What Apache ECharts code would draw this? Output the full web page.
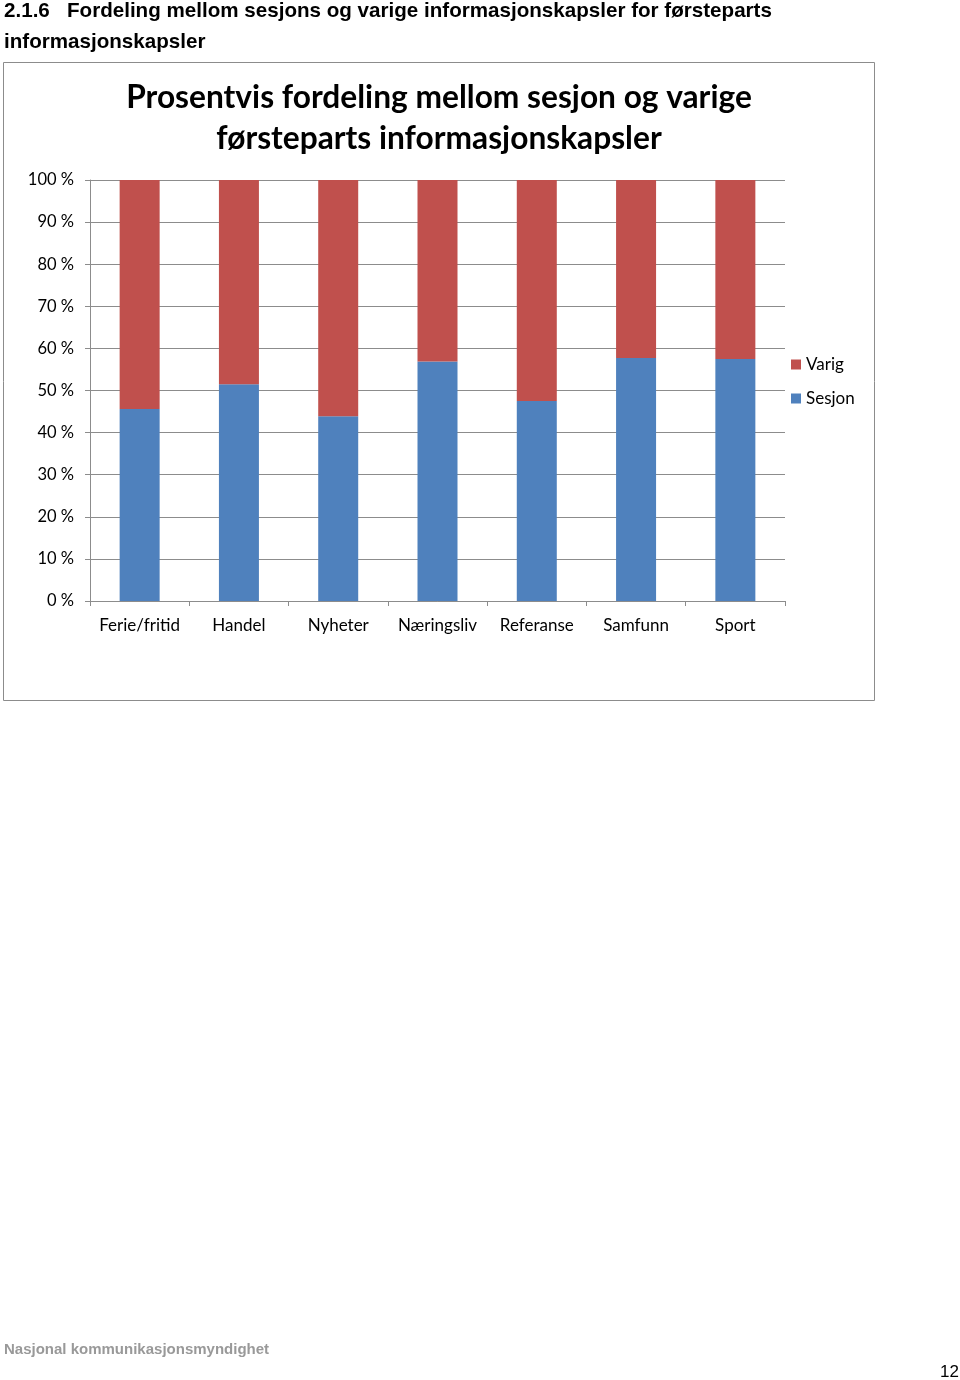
<!DOCTYPE html>
<html>
<head>
<meta charset="utf-8">
<script src="https://cdn.jsdelivr.net/npm/echarts@6/dist/echarts.min.js"></script>
<style>
html,body{margin:0;padding:0;background:#fff;}
#c{width:960px;height:1380px;}
</style>
</head>
<body>
<div id="c"></div>
<script>
const categories = ['Ferie/fritid','Handel','Nyheter','Næringsliv','Referanse','Samfunn','Sport'];
const sesjon = [45.6, 51.5, 43.9, 56.9, 47.5, 57.7, 57.5];
const varig = sesjon.map(v => +(100 - v).toFixed(1));
const seriesNames = ['Sesjon','Varig'];
const yTicks = [0,10,20,30,40,50,60,70,80,90,100];

const chart = echarts.init(document.getElementById('c'), null, {renderer:'canvas'});
const labelFont = 'Lato, "Open Sans", sans-serif';
chart.setOption({
  animation:false,
  backgroundColor:'#fff',
  graphic:[
    {type:'rect', shape:{x:3.5,y:62.5,width:871,height:638}, style:{fill:'none',stroke:'#8c8c8c',lineWidth:1}, z:-1},
    {type:'text', left:4, top:1, style:{text:'2.1.6   Fordeling mellom sesjons og varige informasjonskapsler for førsteparts', font:'bold 20.6px "Liberation Sans", Arial, sans-serif', fill:'#000'}},
    {type:'text', left:4, top:32, style:{text:'informasjonskapsler', font:'bold 20.6px "Liberation Sans", Arial, sans-serif', fill:'#000'}},
    {type:'text', x:439, y:98, style:{text:'Prosentvis fordeling mellom sesjon og varige', font:'bold 31.7px Lato, sans-serif', fill:'#000', align:'center', verticalAlign:'middle'}},
    {type:'text', x:439, y:139, style:{text:'førsteparts informasjonskapsler', font:'bold 31.7px Lato, sans-serif', fill:'#000', align:'center', verticalAlign:'middle'}},
    {type:'text', left:4, top:1342, style:{text:'Nasjonal kommunikasjonsmyndighet', font:'bold 15px "Liberation Sans", Arial, sans-serif', fill:'#999'}},
    {type:'text', left:940, top:1364, style:{text:'12', font:'17px "Liberation Sans", Arial, sans-serif', fill:'#000'}}
  ],
  grid:{left:90, right:175, top:180, bottom:779},
  legend:{
    orient:'vertical', left:786, top:351, itemWidth:10, itemHeight:10, itemGap:17,
    data:['Varig','Sesjon'],
    textStyle:{fontFamily:labelFont, fontSize:17, color:'#000'},
    icon:'rect'
  },
  xAxis:{
    type:'category', data:categories,
    axisLine:{lineStyle:{color:'#8c8c8c'}},
    axisTick:{show:true, length:5, lineStyle:{color:'#8c8c8c'}},
    axisLabel:{fontFamily:labelFont, fontSize:17, color:'#000', margin:16, interval:0}
  },
  yAxis:{
    type:'value', min:0, max:100, interval:10,
    axisLine:{show:true, lineStyle:{color:'#8c8c8c'}},
    axisTick:{show:true, length:5, lineStyle:{color:'#8c8c8c'}},
    splitLine:{lineStyle:{color:'#8c8c8c'}},
    axisLabel:{fontFamily:labelFont, fontSize:16.5, color:'#000', margin:16, formatter:'{value} %'}
  },
  series:[
    {name:seriesNames[0], type:'bar', stack:'a', data:sesjon, barWidth:40, itemStyle:{color:'#4F81BD'}},
    {name:seriesNames[1], type:'bar', stack:'a', data:varig, barWidth:40, itemStyle:{color:'#C0504D'}}
  ]
});
</script>
</body>
</html>
